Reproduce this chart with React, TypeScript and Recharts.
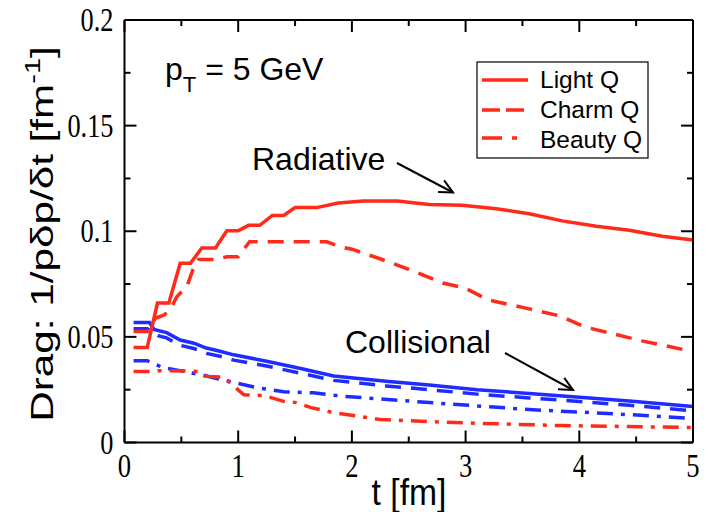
import React from "react";
import { LineChart, Line, XAxis, YAxis, ReferenceLine } from "recharts";

// ---------- data ----------
const xMajorTicks = [0, 1, 2, 3, 4, 5];
const xMinorTicks = [0.5, 1.5, 2.5, 3.5, 4.5];
const yMajorTicks = [0, 0.05, 0.1, 0.15, 0.2];
const yMinorTicks = [0.025, 0.075, 0.125, 0.175];

// Radiative, light quark (red solid)
const tLightRad = [0.08, 0.2, 0.29, 0.39, 0.49, 0.58, 0.68, 0.8, 0.9, 1.0, 1.09, 1.19, 1.3, 1.4, 1.5, 1.69, 1.88, 2.1, 2.4, 2.68, 2.97, 3.27, 3.56, 3.85, 4.15, 4.44, 4.73, 5.0];
const vLightRad = [0.045, 0.045, 0.066, 0.066, 0.0848, 0.0848, 0.0921, 0.0921, 0.1002, 0.1002, 0.1028, 0.1028, 0.1075, 0.1075, 0.1112, 0.1112, 0.1134, 0.1143, 0.1143, 0.1127, 0.1123, 0.1107, 0.1083, 0.1049, 0.1024, 0.1005, 0.0976, 0.0958];

// Radiative, charm quark (red dashed)
const tCharmRad = [0.08, 0.2, 0.27, 0.35, 0.41, 0.46, 0.55, 0.6, 0.65, 0.8, 0.9, 1.0, 1.1, 1.2, 1.78, 1.9, 2.0, 2.24, 2.5, 2.8, 3.0, 3.2, 3.53, 3.83, 4.05, 4.3, 4.55, 4.8, 5.0];
const vCharmRad = [0.0525, 0.0525, 0.0588, 0.0604, 0.0637, 0.069, 0.074, 0.0816, 0.0866, 0.0866, 0.0879, 0.0879, 0.095, 0.095, 0.095, 0.0926, 0.0915, 0.0871, 0.082, 0.0755, 0.073, 0.0675, 0.0636, 0.0599, 0.0547, 0.0514, 0.0481, 0.0453, 0.043];

// Radiative, beauty quark (red dash-dot)
const tBeautyRad = [0.08, 0.22, 0.3, 0.5, 0.65, 0.73, 0.87, 1.05, 1.23, 1.4, 1.5, 1.64, 1.85, 2.25, 2.97, 3.85, 5.0];
const vBeautyRad = [0.0336, 0.0336, 0.034, 0.034, 0.0336, 0.0313, 0.031, 0.0226, 0.0222, 0.0195, 0.019, 0.0165, 0.014, 0.0109, 0.0093, 0.008, 0.0071];

// Collisional, light quark (blue solid)
const tLightCol = [0.08, 0.22, 0.26, 0.37, 0.49, 0.61, 0.72, 0.84, 0.96, 1.25, 1.55, 1.84, 2.3, 2.68, 3.1, 3.56, 4.06, 4.44, 5.0];
const vLightCol = [0.0568, 0.0568, 0.0535, 0.052, 0.0485, 0.047, 0.0447, 0.0432, 0.0415, 0.0385, 0.035, 0.0315, 0.029, 0.0272, 0.025, 0.0232, 0.0212, 0.0196, 0.017];

// Collisional, charm quark (blue dashed)
const tCharmCol = [0.08, 0.2, 0.3, 0.37, 0.49, 0.61, 0.72, 0.84, 0.96, 1.25, 1.55, 1.84, 2.3, 2.68, 3.1, 3.56, 4.06, 4.44, 5.0];
const vCharmCol = [0.0538, 0.0538, 0.0505, 0.0495, 0.046, 0.0445, 0.0422, 0.0408, 0.039, 0.0362, 0.0328, 0.0294, 0.0268, 0.025, 0.0229, 0.0211, 0.0192, 0.0176, 0.015];

// Collisional, beauty quark (blue dash-dot)
const tBeautyCol = [0.08, 0.2, 0.34, 0.53, 0.75, 0.97, 1.16, 1.4, 1.66, 1.92, 2.68, 3.56, 4.44, 5.0];
const vBeautyCol = [0.0387, 0.0387, 0.0354, 0.0336, 0.0311, 0.0283, 0.026, 0.024, 0.0235, 0.0219, 0.0189, 0.0156, 0.0132, 0.0113];

const legendLabels = ["Light Q", "Charm Q", "Beauty Q"];

const toPts = (ts: number[], vs: number[]) => ts.map((t, i) => ({ t, v: vs[i] }));

// ---------- styles ----------
const RED = "#ff2a1a";
const BLUE = "#1e2cff";
const SERIF = "Liberation Serif, Times New Roman, Times, serif";
const SANS = "Liberation Sans, Arial, sans-serif";
const DASH = "16 10";
const DASHDOT = "16 8 4 8";
const LW = 3.5;
const AX = 0.5;

// tick-mark lengths expressed in axis units (12 px / 6 px)
const X_MAJ = 0.1055, X_MIN = 0.0528;
const Y_MAJ = 0.00568, Y_MIN = 0.00284;
const X0 = 0, X1 = 5, Y0 = 0, Y1 = 0.2;

const fmtY = (v: number) => String(Math.round(v * 1000) / 1000);

const BottomLabel = (p: any) => {
  const { x, y, payload } = p;
  return (
    <text transform={`translate(${x},${y + 34}) scale(0.95,1.18)`} textAnchor="middle" fontFamily={SERIF} fontSize={28} fill="#000">
      {String(payload.value)}
    </text>
  );
};

const LeftLabel = (p: any) => {
  const { x, y, payload } = p;
  return (
    <text transform={`translate(${x - 11},${y + 11}) scale(0.94,1.18)`} textAnchor="end" fontFamily={SERIF} fontSize={28} fill="#000">
      {fmtY(payload.value)}
    </text>
  );
};

const Arrow = ({ x1, y1, x2, y2 }: { x1: number; y1: number; x2: number; y2: number }) => {
  const a = Math.atan2(y2 - y1, x2 - x1);
  const L = 15;
  const s = 0.45;
  const h1x = x2 - L * Math.cos(a - s);
  const h1y = y2 - L * Math.sin(a - s);
  const h2x = x2 - L * Math.cos(a + s);
  const h2y = y2 - L * Math.sin(a + s);
  return (
    <g stroke="#000" strokeWidth={2} fill="none">
      <line x1={x1} y1={y1} x2={x2} y2={y2} />
      <polyline points={`${h1x},${h1y} ${x2},${y2} ${h2x},${h2y}`} />
    </g>
  );
};

const axisLineStyle = { stroke: "#000", strokeWidth: 2 };

export default function App() {
  const legendDash = [undefined, "18 6", "20 10 5 20"];
  const common = { type: "number" as const, interval: 0 as const, allowDataOverflow: true };

  const tickSegs: any[] = [];
  xMajorTicks.forEach((t) => {
    tickSegs.push([{ x: t, y: Y0 }, { x: t, y: Y0 + Y_MAJ }]);
    tickSegs.push([{ x: t, y: Y1 }, { x: t, y: Y1 - Y_MAJ }]);
  });
  xMinorTicks.forEach((t) => {
    tickSegs.push([{ x: t, y: Y0 }, { x: t, y: Y0 + Y_MIN }]);
    tickSegs.push([{ x: t, y: Y1 }, { x: t, y: Y1 - Y_MIN }]);
  });
  yMajorTicks.forEach((v) => {
    tickSegs.push([{ x: X0, y: v }, { x: X0 + X_MAJ, y: v }]);
    tickSegs.push([{ x: X1, y: v }, { x: X1 - X_MAJ, y: v }]);
  });
  yMinorTicks.forEach((v) => {
    tickSegs.push([{ x: X0, y: v }, { x: X0 + X_MIN, y: v }]);
    tickSegs.push([{ x: X1, y: v }, { x: X1 - X_MIN, y: v }]);
  });

  return (
    <div style={{ position: "relative", width: 702, height: 504 }}>
      <LineChart width={702} height={496} margin={{ top: 12 - AX, right: 17 - AX, bottom: 61.5 - AX, left: 116.5 - AX }}>
        <XAxis {...common} dataKey="t" domain={[0, 5]} ticks={xMajorTicks} tickSize={0} tickMargin={0}
          tickLine={false} tick={<BottomLabel />} axisLine={axisLineStyle} height={AX} />
        <XAxis {...common} xAxisId="top" orientation="top" dataKey="t" domain={[0, 5]} ticks={xMajorTicks}
          tickLine={false} tick={false} axisLine={axisLineStyle} height={AX} />
        <YAxis {...common} domain={[0, 0.2]} ticks={yMajorTicks} tickSize={0} tickMargin={0}
          tickLine={false} tick={<LeftLabel />} axisLine={axisLineStyle} width={AX} />
        <YAxis {...common} yAxisId="right" orientation="right" domain={[0, 0.2]} ticks={yMajorTicks}
          tickLine={false} tick={false} axisLine={axisLineStyle} width={AX} />

        {tickSegs.map((seg, i) => (
          <ReferenceLine key={`tk${i}`} segment={seg} stroke="#000" strokeWidth={2} ifOverflow="visible" />
        ))}

        <Line data={toPts(tBeautyCol, vBeautyCol)} dataKey="v" type="linear" stroke={BLUE} strokeWidth={LW} strokeDasharray={DASHDOT} dot={false} isAnimationActive={false} />
        <Line data={toPts(tCharmCol, vCharmCol)} dataKey="v" type="linear" stroke={BLUE} strokeWidth={LW} strokeDasharray={DASH} dot={false} isAnimationActive={false} />
        <Line data={toPts(tLightCol, vLightCol)} dataKey="v" type="linear" stroke={BLUE} strokeWidth={LW} dot={false} isAnimationActive={false} />
        <Line data={toPts(tBeautyRad, vBeautyRad)} dataKey="v" type="linear" stroke={RED} strokeWidth={LW} strokeDasharray={DASHDOT} dot={false} isAnimationActive={false} />
        <Line data={toPts(tCharmRad, vCharmRad)} dataKey="v" type="linear" stroke={RED} strokeWidth={LW} strokeDasharray={DASH} dot={false} isAnimationActive={false} />
        <Line data={toPts(tLightRad, vLightRad)} dataKey="v" type="linear" stroke={RED} strokeWidth={LW} dot={false} isAnimationActive={false} />
      </LineChart>

      <svg width={702} height={504} style={{ position: "absolute", left: 0, top: 0, pointerEvents: "none" }}>
        {/* axis titles */}
        <text transform="translate(401,497) scale(1.02,1.1)" textAnchor="middle" fontFamily={SANS} fontSize={33} fill="#000">
          t [fm]
        </text>
        <text transform="translate(45,226) rotate(-90) scale(1.32,1)" textAnchor="middle" fontFamily={SANS} fontSize={32} fill="#000">
          Drag: 1/pδp/δt [fm
          <tspan dy={-13} fontSize={22}>-1</tspan>
          <tspan dy={13}>]</tspan>
        </text>

        {/* annotations */}
        <text x={157} y={72} fontFamily={SANS} fontSize={32} fill="#000">
          p<tspan dy={12} fontSize={22}>T</tspan>
          <tspan dy={-12}> = 5 GeV</tspan>
        </text>
        <text x={244} y={162} fontFamily={SANS} fontSize={32} fill="#000">Radiative</text>
        <Arrow x1={389} y1={155} x2={445} y2={184.5} />
        <text x={337} y={345} fontFamily={SANS} fontSize={32} fill="#000">Collisional</text>
        <Arrow x1={497} y1={345} x2={565} y2={382} />

        {/* legend */}
        <rect x={469} y={54} width={171} height={96} fill="#fff" stroke="#000" strokeWidth={1.2} />
        {legendLabels.map((lab, i) => {
          const ly = [72, 102, 130][i];
          const ty = [80, 110, 140][i];
          return (
            <g key={lab}>
              <line x1={474} y1={ly} x2={520} y2={ly} stroke={RED} strokeWidth={LW} strokeDasharray={legendDash[i]} />
              <text x={532} y={ty} fontFamily={SANS} fontSize={24.5} fill="#000">{lab}</text>
            </g>
          );
        })}
      </svg>
    </div>
  );
}
